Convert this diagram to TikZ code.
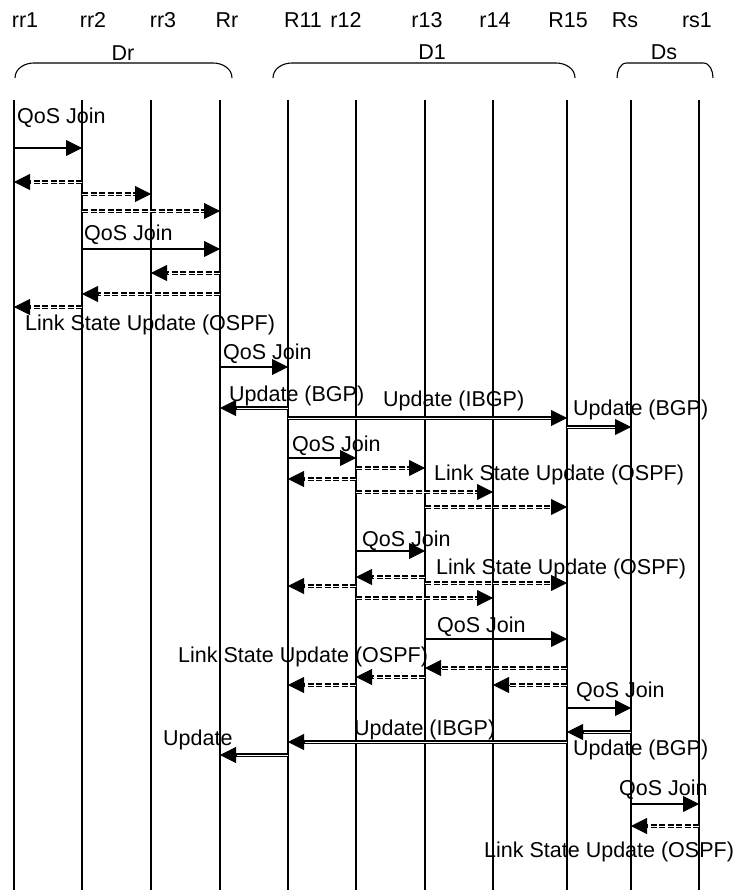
\documentclass[tikz,border=0pt]{standalone}
\usepackage{fontspec}
\setmainfont{Liberation Sans}
\usetikzlibrary{arrows.meta,calc}
\newcommand\sqmsg[4]{%
  \draw[#1] let \p1=(#2), \p2=(#3) in (\x1,#4) -- ({\x2-sign(\x2-\x1)*13pt},#4);
  \draw[tipst] let \p1=(#2), \p2=(#3) in ({\x2-sign(\x2-\x1)*16pt},#4) -- (\x2,#4);}
\begin{document}
\begin{tikzpicture}[x=1pt,y=-1pt,
  lifeline/.style={line width=1.5pt},
  bracket/.style={line width=1.1pt},
  lbl/.style={anchor=base west, inner sep=0pt, font=\fontsize{21.5}{24}\selectfont},
  hdr/.style={anchor=base, inner sep=0pt, font=\fontsize{21.5}{24}\selectfont},
  solidmsg/.style={line width=2.2pt},
  dashmsg/.style={double, line width=1.8pt, double distance=0.9pt, dash pattern=on 6pt off 2.5pt},
  dblmsg/.style={double, line width=1.6pt, double distance=0.9pt},
  tipst/.style={line width=0.8pt, solid, -{Triangle[length=16pt,width=16pt]}}]
\useasboundingbox (0,0) rectangle (733,890);

% lifelines
\foreach \n/\x in {rr1/14, rr2/82, rr3/151, Rr/220, R11/288, r12/356, r13/425, r14/493, R15/567, Rs/631, rs1/699}{
  \coordinate (\n) at (\x,100);
  \draw[lifeline] (\n) -- (\x,890);
}

% headers
\node[hdr] (hrr1) at (25,28) {rr1};
\node[hdr] (hrr2) at (93,28) {rr2};
\node[hdr] (hrr3) at (163,28) {rr3};
\node[hdr] (hRr)  at (227,28) {Rr};
\node[hdr] (hR11) at (303,28) {R11};
\node[hdr] (hr12) at (346,28) {r12};
\node[hdr] (hr13) at (427,28) {r13};
\node[hdr] (hr14) at (495,28) {r14};
\node[hdr] (hR15) at (568,28) {R15};
\node[hdr] (hRs)  at (625,28) {Rs};
\node[hdr] (hrs1) at (697,28) {rs1};

% domains
\node[hdr] (dDr) at (123,61) {Dr};
\node[hdr] (dD1) at (432,60) {D1};
\node[hdr] (dDs) at (664,60) {Ds};
\draw[bracket] (15,78) to[out=90,in=180] (34,63) -- (213,63) to[out=0,in=90] (232,78);
\draw[bracket] (273,78) to[out=90,in=180] (292,63) -- (556,63) to[out=0,in=90] (575,78);
\draw[bracket] (617,78) to[out=90,in=180] (627,63) -- (703,63) to[out=0,in=90] (713,78);

% messages
\sqmsg{solidmsg}{rr1}{rr2}{148}
\sqmsg{dashmsg}{rr2}{rr1}{182}
\sqmsg{dashmsg}{rr2}{rr3}{194}
\sqmsg{dashmsg}{rr2}{Rr}{211}
\sqmsg{solidmsg}{rr2}{Rr}{249}
\sqmsg{dashmsg}{Rr}{rr3}{273}
\sqmsg{dashmsg}{Rr}{rr2}{294}
\sqmsg{dashmsg}{rr2}{rr1}{307}
\sqmsg{solidmsg}{Rr}{R11}{367}
\sqmsg{dblmsg}{R11}{Rr}{408}
\sqmsg{dblmsg}{R11}{R15}{418}
\sqmsg{dblmsg}{R15}{Rs}{427}
\sqmsg{solidmsg}{R11}{r12}{458}
\sqmsg{dashmsg}{r12}{r13}{468}
\sqmsg{dashmsg}{r12}{R11}{479}
\sqmsg{dashmsg}{r12}{r14}{492}
\sqmsg{dashmsg}{r13}{R15}{507}
\sqmsg{solidmsg}{r12}{r13}{551}
\sqmsg{dashmsg}{r13}{r12}{577}
\sqmsg{dashmsg}{r13}{R15}{583}
\sqmsg{dashmsg}{r12}{R11}{586}
\sqmsg{dashmsg}{r12}{r14}{598}
\sqmsg{solidmsg}{r13}{R15}{639}
\sqmsg{dashmsg}{R15}{r13}{668}
\sqmsg{dashmsg}{r13}{r12}{677}
\sqmsg{dashmsg}{r12}{R11}{685}
\sqmsg{dashmsg}{R15}{r14}{685}
\sqmsg{solidmsg}{R15}{Rs}{708}
\sqmsg{dblmsg}{Rs}{R15}{732}
\sqmsg{dblmsg}{R15}{R11}{742}
\sqmsg{dblmsg}{R11}{Rr}{755}
\sqmsg{solidmsg}{Rs}{rs1}{804}
\sqmsg{dashmsg}{rs1}{Rs}{826}

% labels
\node[lbl] (l1)  at (17,124)  {QoS Join};
\node[lbl] (l2)  at (84,241)  {QoS Join};
\node[lbl] (l3)  at (25,330)  {Link State Update (OSPF)};
\node[lbl] (l4)  at (223,359) {QoS Join};
\node[lbl] (l5)  at (229,401) {Update (BGP)};
\node[lbl] (l6)  at (383,406) {Update (IBGP)};
\node[lbl] (l7)  at (573,415) {Update (BGP)};
\node[lbl] (l8)  at (292,451) {QoS Join};
\node[lbl] (l9)  at (434,480) {Link State Update (OSPF)};
\node[lbl] (l10) at (362,546) {QoS Join};
\node[lbl] (l11) at (436,574) {Link State Update (OSPF)};
\node[lbl] (l12) at (437,632) {QoS Join};
\node[lbl] (l13) at (178,662) {Link State Update (OSPF)};
\node[lbl] (l14) at (576,697) {QoS Join};
\node[lbl] (l15) at (354,735) {Update (IBGP)};
\node[lbl] (l16) at (163,745) {Update};
\node[lbl] (l17) at (573,755) {Update (BGP)};
\node[lbl] (l18) at (619,795) {QoS Join};
\node[lbl] (l19) at (484,857) {Link State Update (OSPF)};
\end{tikzpicture}
\end{document}
